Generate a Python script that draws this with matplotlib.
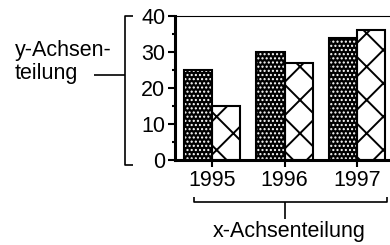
import matplotlib
matplotlib.use("Agg")
import matplotlib.pyplot as plt
import numpy as np

plt.rcParams["font.family"] = ["Liberation Sans", "DejaVu Sans"]
plt.rcParams["hatch.linewidth"] = 1.4

years = ["1995", "1996", "1997"]
series_a = [25, 30, 34]   # dotted dark bars
series_b = [15, 27, 36]   # cross-hatched bars
y_ticks = [0, 10, 20, 30, 40]
y_label = "y-Achsen-\nteilung"
x_label = "x-Achsenteilung"

W, H = 390, 245
fig = plt.figure(figsize=(W / 100, H / 100), dpi=100)

# overlay in pixel coordinates for the labels and brackets
ann = fig.add_axes([0, 0, 1, 1], zorder=-1)
ann.set_xlim(0, W)
ann.set_ylim(H, 0)
ann.axis("off")

ax = fig.add_axes([175 / W, 85 / H, 225 / W, 144 / H])
x = np.arange(len(years))
bw = 0.39

# dark bars: black fill with white dot hatch, then black outline on top
with plt.rc_context({"hatch.linewidth": 1.0}):
    ax.bar(x - bw / 2, series_a, bw, color="black", edgecolor="white",
           hatch="....", linewidth=0, zorder=2)
ax.bar(x - bw / 2, series_a, bw, facecolor="none", edgecolor="black",
       linewidth=1.5, zorder=3)
ax.bar(x + bw / 2, series_b, bw, color="white", edgecolor="black",
       hatch="x", linewidth=1.5, zorder=2)

ax.set_xlim(-0.51, 2.59)
ax.set_ylim(0, 40)
ax.set_yticks(y_ticks)
ax.set_yticks(np.arange(5, 40, 10), minor=True)
ax.set_xticks(x)
ax.set_xticklabels(years)
ax.tick_params(axis="both", which="major", labelsize=15.5, width=1.5, length=5,
               pad=2, direction="out")
ax.tick_params(axis="y", which="minor", width=1.5, length=2.5, direction="out")
ax.spines["left"].set_linewidth(2.2)
ax.spines["bottom"].set_linewidth(2.2)
ax.spines["top"].set_linewidth(0.8)
ax.spines["right"].set_visible(False)

# y bracket
lk = dict(color="black", lw=1.2, solid_capstyle="butt")
ann.plot([133, 125, 125, 133], [16, 16, 165, 165], **lk)
ann.plot([94, 125], [75, 75], **lk)
ann.text(15, 62, y_label, fontsize=15.5, ha="left", va="center",
         linespacing=1.15)

# x bracket
ann.plot([194, 194, 387, 387], [197, 202, 202, 197], **lk)
ann.plot([285, 285], [202, 219], **lk)
ann.text(289, 231, x_label, fontsize=15.5, ha="center", va="center")

fig.savefig("out.png", dpi=100)
